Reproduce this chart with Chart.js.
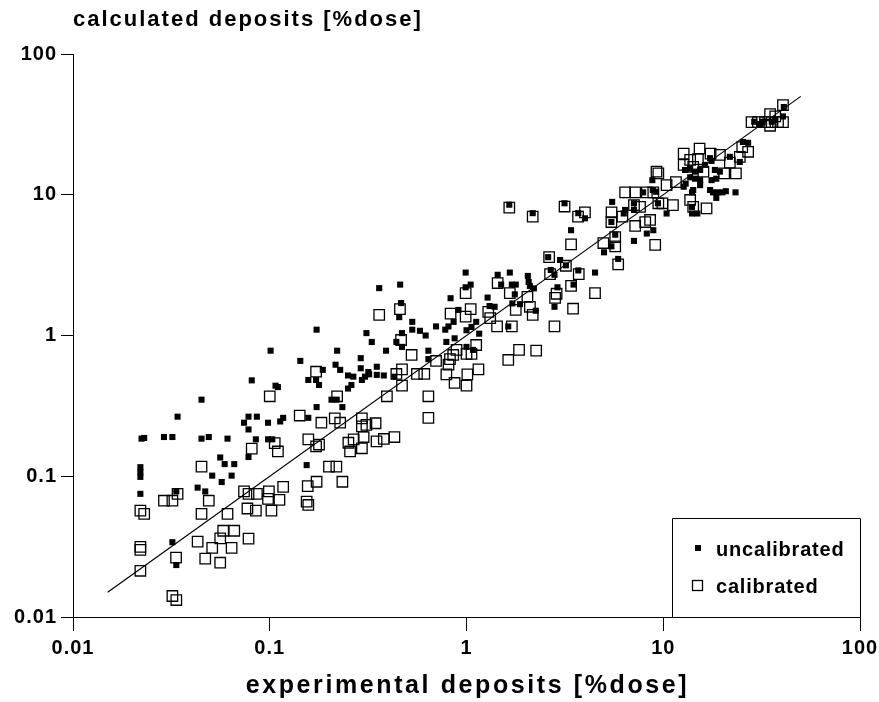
<!DOCTYPE html>
<html>
<head>
<meta charset="utf-8">
<script src="https://cdn.jsdelivr.net/npm/chart.js@4.4.0/dist/chart.umd.min.js"></script>
<style>
html, body { margin: 0; padding: 0; background: #fff; }
#wrap { width: 879px; height: 702px; }
</style>
</head>
<body>
<div id="wrap"><canvas id="depositChart" width="879" height="702"></canvas></div>
<script>
var xTitle = 'experimental deposits [%dose]';
var yTitle = 'calculated deposits [%dose]';
var seriesNames = ['uncalibrated', 'calibrated'];

var tickValues = [0.01, 0.1, 1, 10, 100];
var tickLabels = ['0.01', '0.1', '1', '10', '100'];

// uncalibrated model (filled squares)
var uncalX = [
  0.045, 0.034, 0.081, 0.107, 0.11, 0.0223, 0.023, 0.029, 0.032, 0.045,
  0.049, 0.061, 0.078, 0.086, 0.074, 0.078, 0.098, 0.113, 0.117, 0.085,
  0.098, 0.103, 0.078, 0.056, 0.059, 0.066, 0.051, 0.064, 0.057, 0.022,
  0.022, 0.022, 0.022, 0.043, 0.047, 0.0335, 0.032, 0.0335,
  0.173, 0.31, 0.33, 0.101, 0.22, 0.143, 0.216, 0.228, 0.186, 0.29,
  0.29, 0.317, 0.35, 0.25, 0.266, 0.294, 0.305, 0.35, 0.157, 0.172,
  0.178, 0.25, 0.26, 0.206, 0.219, 0.173, 0.234, 0.157, 0.154,
  0.99, 1.05, 0.99, 0.36, 0.46, 0.83, 0.465, 0.455, 0.53, 0.53,
  0.58, 0.62, 0.70, 0.78, 0.81, 0.86, 0.91, 1.0, 1.06, 1.12,
  1.16, 0.47, 0.44, 0.47, 0.79, 0.87, 0.39, 0.32, 0.38, 0.43,
  0.64, 0.64, 1.0, 1.08,
  1.65, 2.17, 3.15, 3.7, 4.0, 3.4, 5.5, 7.1, 7.1, 6.4,
  5.45, 5.7, 5.45, 5.0, 5.9, 7.1, 8.8, 9.2, 9.4, 8.25,
  8.9, 2.6, 2.99, 3.2, 2.68, 2.8, 3.7, 3.5, 4.5, 2.9,
  2.8, 2.05, 2.07, 2.1, 2.2, 2.25, 1.66, 1.44, 1.5, 1.7,
  1.78, 1.76, 1.28, 1.31, 1.39, 1.71, 1.87, 1.63,
  41, 29, 32, 35.6, 37, 40.6, 31, 25.4, 27, 24.5,
  21.8, 12.9, 13.7, 14.5, 15.4, 16.3, 17.3, 17.6, 18.3, 19.4,
  13.7, 14.5, 15.4, 13, 12.7, 17.6, 18.6, 8.85, 14.2, 15.4,
  14, 17.3, 17.9, 18.9, 20, 20.8, 18.6, 23.3, 14, 14,
  14.9, 10.4, 7.9, 6.3
];
var uncalY = [
  0.35, 0.265, 0.48, 0.44, 0.43, 0.185, 0.187, 0.19, 0.19, 0.185,
  0.19, 0.185, 0.265, 0.265, 0.24, 0.215, 0.24, 0.245, 0.26, 0.183,
  0.183, 0.183, 0.137, 0.136, 0.122, 0.122, 0.101, 0.101, 0.091, 0.116,
  0.107, 0.099, 0.075, 0.083, 0.078, 0.078, 0.034, 0.0234,
  1.1, 1.04, 0.9, 0.78, 0.78, 0.66, 0.62, 0.57, 0.57, 0.69,
  0.585, 0.55, 0.6, 0.52, 0.51, 0.483, 0.51, 0.525, 0.483, 0.483,
  0.445, 0.42, 0.445, 0.35, 0.35, 0.31, 0.31, 0.26, 0.12,
  2.8, 2.3, 2.2, 2.17, 2.3, 1.84, 1.7, 1.35, 1.25, 1.1,
  1.08, 1.0, 1.16, 1.1, 1.16, 1.25, 1.52, 1.09, 1.15, 1.25,
  1.03, 1.04, 0.9, 0.83, 0.9, 0.955, 0.78, 0.53, 0.52, 0.51,
  0.78, 0.68, 0.83, 0.79,
  8.5, 7.4, 8.7, 7.4, 6.8, 5.6, 8.9, 8.7, 7.8, 7.8,
  6.4, 5.2, 4.3, 3.9, 3.5, 4.7, 12.7, 10.5, 8.7, 5.3,
  5.6, 3.6, 3.44, 3.15, 2.92, 2.7, 2.9, 2.3, 2.8, 2.2,
  1.6, 2.65, 2.4, 2.25, 2.16, 1.5, 2.8, 2.7, 2.3, 2.3,
  2.3, 1.96, 1.86, 1.62, 1.6, 1.69, 1.67, 1.16,
  42, 33, 33, 33, 34, 36, 31.8, 23.7, 23.4, 17.1,
  18.6, 15, 15.4, 14.6, 15, 16.3, 18.2, 17.4, 15, 14.6,
  13.3, 13, 12.7, 12, 11.4, 12.7, 13, 10.8, 10.8, 11.7,
  10.4, 10.8, 10.4, 10.4, 10.4, 10.6, 9.5, 10.4, 8.2, 7.36,
  7.36, 7.36, 10.4, 7.36
];

// calibrated model (open squares)
var calX = [
  0.10, 0.081, 0.106, 0.11, 0.045, 0.029, 0.032, 0.034, 0.022, 0.023,
  0.049, 0.045, 0.061, 0.074, 0.078, 0.086, 0.099, 0.098, 0.112, 0.117,
  0.077, 0.085, 0.102, 0.058, 0.066, 0.043, 0.056, 0.051, 0.064, 0.078,
  0.047, 0.056, 0.022, 0.022, 0.0334, 0.022, 0.032, 0.0335,
  0.36, 0.172, 0.22, 0.142, 0.183, 0.214, 0.228, 0.294, 0.294, 0.31,
  0.345, 0.157, 0.172, 0.178, 0.251, 0.256, 0.267, 0.294, 0.30, 0.349,
  0.20, 0.218, 0.234, 0.173, 0.156, 0.154, 0.157,
  0.99, 0.459, 0.83, 0.99, 1.05, 0.465, 0.526, 0.89, 0.856, 1.0,
  1.06, 1.12, 0.70, 0.81, 0.79, 0.87, 1.0, 1.01, 1.15, 0.61,
  0.56, 0.47, 0.44, 0.47, 0.394, 0.64, 0.64, 0.38, 0.43,
  1.65, 2.17, 3.15, 3.69, 4.0, 6.4, 7.2, 7.1, 5.46, 6.2,
  5.45, 7.2, 5.7, 5.7, 4.96, 5.9, 8.1, 8.57, 9.1, 9.44,
  8.9, 9.44, 3.4, 2.63, 3.2, 3.72, 2.66, 3.4, 2.87, 2.82,
  4.5, 3.48, 2.8, 1.44, 1.66, 1.78, 2.04, 2.1, 2.17, 1.7,
  1.43, 1.32, 1.29, 1.85, 2.26, 1.63, 0.824,
  40.6, 28.1, 30.3, 32.9, 35.6, 38.3, 40.6, 34.9, 34.9, 37.1,
  25.2, 27, 24.5, 12.7, 15.3, 13.7, 15.0, 17.4, 19.4, 21.8,
  23.4, 20.4, 16.0, 14.2, 12.7, 9.24, 11.6, 10.4, 8.25, 13.7,
  14.2, 16.6, 9.9, 11.2, 7.62
];
var calY = [
  0.37, 0.157, 0.172, 0.15, 0.117, 0.067, 0.067, 0.075, 0.057, 0.054,
  0.067, 0.054, 0.054, 0.078, 0.075, 0.075, 0.078, 0.069, 0.068, 0.084,
  0.059, 0.057, 0.057, 0.041, 0.041, 0.0343, 0.0362, 0.031, 0.031, 0.036,
  0.026, 0.0243, 0.0315, 0.030, 0.0264, 0.0213, 0.0141, 0.0132,
  1.4, 0.553, 0.37, 0.27, 0.24, 0.258, 0.24, 0.258, 0.226, 0.232,
  0.238, 0.183, 0.163, 0.168, 0.173, 0.15, 0.183, 0.158, 0.19, 0.177,
  0.117, 0.117, 0.0914, 0.0914, 0.085, 0.066, 0.0625,
  2.0, 1.54, 1.43, 1.36, 1.54, 0.929, 0.727, 0.79, 0.727, 0.74,
  0.74, 0.856, 0.659, 0.62, 0.53, 0.46, 0.44, 0.53, 0.575, 0.533,
  0.533, 0.575, 0.533, 0.44, 0.37, 0.37, 0.26, 0.184, 0.19,
  8.1, 7.0, 8.25, 7.0, 7.5, 10.4, 10.4, 8.45, 7.5, 7.0,
  6.4, 6.0, 5.0, 4.3, 4.54, 3.2, 6.4, 6.62, 4.4, 14.2,
  10.4, 8.7, 4.44, 3.6, 3.13, 2.73, 2.73, 2.25, 1.98, 1.85,
  2.0, 1.55, 1.16, 2.36, 2.0, 1.52, 1.88, 1.6, 1.4, 1.16,
  1.16, 1.33, 1.47, 0.79, 0.78, 0.67, 0.68,
  43.3, 32.8, 32.8, 32.8, 32.8, 32.8, 32.8, 30.9, 37.4, 36.0,
  21.8, 20.2, 18.6, 19.6, 21.3, 17.7, 17.9, 19.6, 19.2, 16.9,
  14.2, 14.2, 14.6, 15.8, 16.3, 14.6, 12.3, 11.7, 10.4, 9.18,
  8.2, 8.0, 8.7, 8.45, 8.2
];

// line of identity
var lineX = [0.015, 50];
var lineY = [0.015, 50];

function toPoints(xs, ys) {
  var pts = [];
  for (var i = 0; i < xs.length; i++) {
    pts.push({ x: xs[i], y: ys[i] });
  }
  return pts;
}

var fontFamily = "'Liberation Sans', Arial, Helvetica, sans-serif";
var tickFont = { family: fontFamily, size: 20, weight: 'bold' };

function setTicks(scale) {
  scale.ticks = tickValues.map(function (v) { return { value: v }; });
}
function tickText(value) {
  var i = tickValues.indexOf(value);
  return i >= 0 ? tickLabels[i] : '';
}

// wider letter spacing for the tick labels (scales are drawn before datasets)
var spacingPlugin = {
  id: 'spacingPlugin',
  beforeDraw: function (chart) { chart.ctx.letterSpacing = '1px'; },
  beforeDatasetsDraw: function (chart) { chart.ctx.letterSpacing = '0px'; }
};

var textPlugin = {
  id: 'textPlugin',
  afterDraw: function (chart) {
    var ctx = chart.ctx;
    var area = chart.chartArea;
    ctx.save();
    ctx.fillStyle = '#000';
    ctx.strokeStyle = '#000';
    ctx.textBaseline = 'middle';

    // axis titles
    ctx.font = 'bold 22px ' + fontFamily;
    ctx.letterSpacing = '2px';
    ctx.textAlign = 'left';
    ctx.fillText(yTitle, area.left, 20);
    ctx.font = 'bold 25px ' + fontFamily;
    ctx.letterSpacing = '2.6px';
    ctx.textAlign = 'center';
    ctx.fillText(xTitle, (area.left + area.right) / 2 + 1, 686);

    // legend box
    var boxL = 672.5, boxT = 518.5, boxR = Math.round(area.right) + 0.5, boxB = area.bottom;
    ctx.lineWidth = 1;
    ctx.beginPath();
    ctx.moveTo(boxL, boxB);
    ctx.lineTo(boxL, boxT);
    ctx.lineTo(boxR, boxT);
    ctx.lineTo(boxR, boxB);
    ctx.stroke();

    ctx.fillRect(695, 545, 6, 6);
    ctx.lineWidth = 1.3;
    ctx.strokeRect(692.5, 580.5, 10, 10);

    ctx.font = 'bold 20px ' + fontFamily;
    ctx.letterSpacing = '0.8px';
    ctx.textAlign = 'left';
    ctx.fillText(seriesNames[0], 716, 550);
    ctx.fillText(seriesNames[1], 716, 587);
    ctx.restore();
  }
};

var ctx = document.getElementById('depositChart').getContext('2d');

var chart = new Chart(ctx, {
  type: 'scatter',
  data: {
    datasets: [{
      label: seriesNames[0],
      data: toPoints(uncalX, uncalY),
      pointStyle: 'rect',
      pointRadius: 4.3,
      pointBackgroundColor: '#000',
      pointBorderColor: '#000',
      pointBorderWidth: 0
    }, {
      label: seriesNames[1],
      data: toPoints(calX, calY),
      pointStyle: 'rect',
      pointRadius: 7.4,
      pointBackgroundColor: 'rgba(0,0,0,0)',
      pointBorderColor: '#000',
      pointBorderWidth: 1.3
    }, {
      type: 'line',
      label: 'identity',
      data: toPoints(lineX, lineY),
      showLine: true,
      borderColor: '#000',
      borderWidth: 1.2,
      pointRadius: 0,
      fill: false
    }]
  },
  options: {
    responsive: false,
    animation: false,
    devicePixelRatio: 1,
    layout: { padding: { top: 54, right: 19, left: 0, bottom: 0 } },
    plugins: {
      legend: { display: false },
      tooltip: { enabled: false },
      title: { display: false }
    },
    scales: {
      x: {
        type: 'logarithmic',
        min: 0.01,
        max: 100,
        afterBuildTicks: setTicks,
        afterFit: function (scale) {
          scale.height = 85;
          scale.paddingLeft = 0;
          scale.paddingRight = 0;
        },
        ticks: {
          callback: tickText,
          font: tickFont,
          color: '#000',
          padding: 5,
          maxRotation: 0,
          autoSkip: false
        },
        grid: { drawOnChartArea: false, drawTicks: true, tickLength: 14, color: '#000', lineWidth: 1 },
        border: { display: true, color: '#000', width: 1 }
      },
      y: {
        type: 'logarithmic',
        min: 0.01,
        max: 100,
        afterBuildTicks: setTicks,
        afterFit: function (scale) {
          scale.width = 73;
          scale.paddingTop = 0;
          scale.paddingBottom = 0;
        },
        ticks: {
          callback: tickText,
          font: tickFont,
          color: '#000',
          padding: 4,
          autoSkip: false
        },
        grid: { drawOnChartArea: false, drawTicks: true, tickLength: 12, color: '#000', lineWidth: 1 },
        border: { display: true, color: '#000', width: 1 }
      }
    }
  },
  plugins: [spacingPlugin, textPlugin]
});
</script>
</body>
</html>
